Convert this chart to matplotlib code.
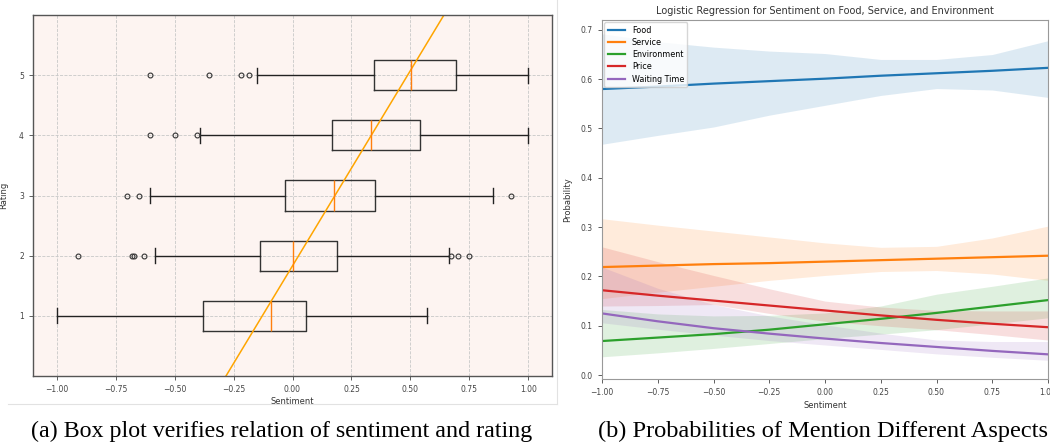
import numpy as np
import matplotlib
matplotlib.use('Agg')
import matplotlib.pyplot as plt
from matplotlib.lines import Line2D

# ---- left panel: box plot stats ----
ratings = [1, 2, 3, 4, 5]
whislo = [-1.00, -0.582, -0.603, -0.390, -0.150]
q1 = [-0.380, -0.137, -0.032, 0.166, 0.347]
med = [-0.092, 0.000, 0.177, 0.333, 0.504]
q3 = [0.057, 0.187, 0.350, 0.542, 0.695]
whishi = [0.571, 0.663, 0.851, 1.00, 1.00]
fliers = [
    [],
    [-0.909, -0.679, -0.672, -0.630, 0.672, 0.700, 0.750],
    [-0.700, -0.650, 0.928],
    [-0.603, -0.500, -0.406],
    [-0.603, -0.352, -0.218, -0.185],
]
fit_x = [-0.282, 0.642]   # regression line crossing rating 0 and 6
fit_y = [0, 6]

# ---- right panel: logistic curves + CI ----
sent = [-1.0, -0.75, -0.5, -0.25, 0.0, 0.25, 0.5, 0.75, 1.0]
aspects = ['Food', 'Service', 'Environment', 'Price', 'Waiting Time']
colors = ['#1f77b4', '#ff7f0e', '#2ca02c', '#d62728', '#9467bd']
prob = {
    'Food':         [0.580, 0.585, 0.591, 0.596, 0.601, 0.607, 0.612, 0.617, 0.623],
    'Service':      [0.219, 0.222, 0.225, 0.227, 0.230, 0.233, 0.236, 0.239, 0.242],
    'Environment':  [0.069, 0.076, 0.083, 0.092, 0.103, 0.114, 0.126, 0.139, 0.152],
    'Price':        [0.172, 0.161, 0.151, 0.141, 0.131, 0.121, 0.112, 0.104, 0.097],
    'Waiting Time': [0.125, 0.109, 0.095, 0.084, 0.074, 0.065, 0.057, 0.049, 0.042],
}
upper = {
    'Food':         [0.692, 0.676, 0.665, 0.657, 0.652, 0.640, 0.640, 0.650, 0.678],
    'Service':      [0.317, 0.304, 0.292, 0.280, 0.268, 0.259, 0.261, 0.278, 0.302],
    'Environment':  [0.133, 0.124, 0.120, 0.121, 0.126, 0.140, 0.164, 0.180, 0.197],
    'Price':        [0.260, 0.230, 0.202, 0.175, 0.150, 0.138, 0.131, 0.130, 0.130],
    'Waiting Time': [0.219, 0.176, 0.143, 0.120, 0.102, 0.085, 0.071, 0.068, 0.068],
}
lower = {
    'Food':         [0.468, 0.486, 0.503, 0.527, 0.547, 0.567, 0.581, 0.578, 0.563],
    'Service':      [0.155, 0.168, 0.180, 0.192, 0.202, 0.210, 0.212, 0.205, 0.192],
    'Environment':  [0.037, 0.045, 0.054, 0.064, 0.074, 0.083, 0.092, 0.104, 0.116],
    'Price':        [0.140, 0.141, 0.143, 0.125, 0.109, 0.100, 0.092, 0.082, 0.071],
    'Waiting Time': [0.106, 0.093, 0.081, 0.070, 0.061, 0.052, 0.043, 0.036, 0.030],
}

W, H = 1050, 446
fig = plt.figure(figsize=(W / 100, H / 100), dpi=100)

def box(l, t, r, b):
    return [l / W, 1 - b / H, (r - l) / W, (b - t) / H]

tick_fs = 5.5
lab_fs = 6

# left panel
ax = fig.add_axes(box(33, 15, 552, 376))
ax.set_facecolor('#fdf4f1')
stats = []
for i in range(len(ratings)):
    stats.append(dict(whislo=whislo[i], q1=q1[i], med=med[i], q3=q3[i],
                      whishi=whishi[i], fliers=fliers[i]))
ax.bxp(stats, positions=ratings, orientation='horizontal', widths=0.5,
       boxprops=dict(color='#333333', lw=1),
       whiskerprops=dict(color='#222222', lw=1),
       capprops=dict(color='#222222', lw=1),
       medianprops=dict(color='#ff7f0e', lw=1),
       flierprops=dict(marker='o', markersize=3.5, markerfacecolor='none',
                       markeredgecolor='#333333', markeredgewidth=0.8))
ax.plot(fit_x, fit_y, color='orange', lw=1.1)
ax.set_xlim(-1.1, 1.1)
ax.set_ylim(0, 6)
ax.set_yticks(ratings)
ax.set_yticklabels([str(r) for r in ratings])
ax.set_xticks([-1, -0.75, -0.5, -0.25, 0, 0.25, 0.5, 0.75, 1])
ax.set_xticklabels(['\u22121.00', '\u22120.75', '\u22120.50', '\u22120.25', '0.00',
                    '0.25', '0.50', '0.75', '1.00'])
ax.grid(True, ls='--', color='#c8c8c8', lw=0.6)
ax.set_axisbelow(True)
ax.tick_params(labelsize=tick_fs, length=3, width=0.6, colors='#444444')
ax.set_xlabel('Sentiment', fontsize=lab_fs, color='#333333', labelpad=2)
ax.set_ylabel('Rating', fontsize=lab_fs, color='#333333', labelpad=8)
for s in ax.spines.values():
    s.set_color('#555555')
    s.set_linewidth(1)

# right panel
ax2 = fig.add_axes(box(602, 20, 1048, 379))
for name, c in zip(aspects, colors):
    ax2.fill_between(sent, lower[name], upper[name], color=c, alpha=0.15, lw=0)
    ax2.plot(sent, prob[name], color=c, lw=1.6, label=name)
ax2.set_xlim(-1, 1)
ax2.set_ylim(-0.008, 0.72)
ax2.set_xticks([-1, -0.75, -0.5, -0.25, 0, 0.25, 0.5, 0.75, 1])
ax2.set_xticklabels(['\u22121.00', '\u22120.75', '\u22120.50', '\u22120.25', '0.00',
                     '0.25', '0.50', '0.75', '1.00'])
ax2.set_yticks([0, 0.1, 0.2, 0.3, 0.4, 0.5, 0.6, 0.7])
ax2.tick_params(labelsize=tick_fs, length=3, width=0.6, colors='#444444')
ax2.set_xlabel('Sentiment', fontsize=lab_fs, color='#333333', labelpad=3)
ax2.set_ylabel('Probability', fontsize=lab_fs, color='#333333', labelpad=6)
ax2.set_title('Logistic Regression for Sentiment on Food, Service, and Environment',
              fontsize=7, color='#333333', pad=4)
for s in ax2.spines.values():
    s.set_color('#999999')
ax2.legend(loc='upper left', fontsize=5.8, frameon=True, handlelength=2.2,
           borderpad=0.4, labelspacing=0.4, borderaxespad=0.3)

# subfigure frame lines and captions
fig.add_artist(Line2D([557 / W, 557 / W], [1, 1 - 404 / H], color='#e2e2e2', lw=0.8))
fig.add_artist(Line2D([8 / W, 557 / W], [1 - 404 / H, 1 - 404 / H], color='#e2e2e2', lw=0.8))
fig.text(282 / W, 1 - 431 / H, '(a) Box plot verifies relation of sentiment and rating',
         ha='center', va='center', fontsize=17.3, family='Liberation Serif')
fig.text(823 / W, 1 - 431 / H, '(b) Probabilities of Mention Different Aspects',
         ha='center', va='center', fontsize=17.6, family='Liberation Serif')

fig.savefig('out.png', dpi=100)
